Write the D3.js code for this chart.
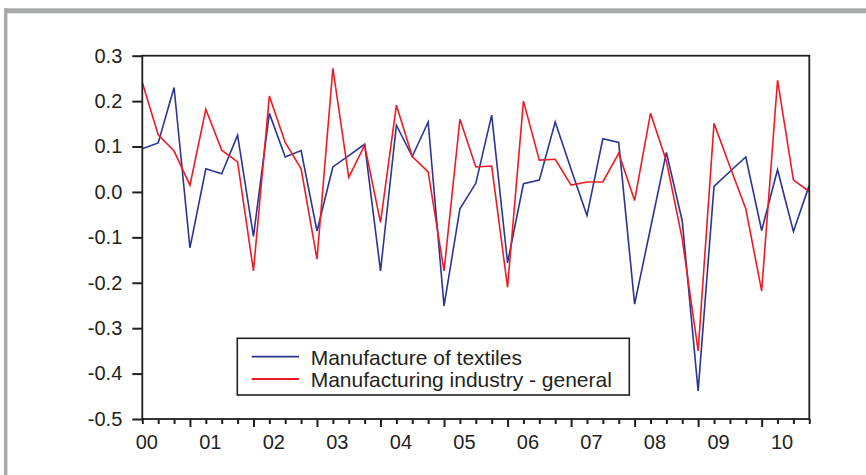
<!DOCTYPE html>
<html>
<head>
<meta charset="utf-8">
<script src="https://cdn.jsdelivr.net/npm/d3@7"></script>
<style>
  html, body { margin: 0; padding: 0; background: #fff; }
  svg { display: block; font-family: "Liberation Sans", Arial, sans-serif; }
</style>
</head>
<body>
<svg id="chart" width="866" height="475"></svg>
<script>
// ---- data (quarterly, 2000Q1 .. 2010Q3) ----
const quarters = d3.range(43); // observation index
const textiles = [0.095, 0.108, 0.230, -0.123, 0.051, 0.040, 0.125, -0.098, 0.173, 0.077,
                  0.091, -0.086, 0.055, 0.080, 0.105, -0.174, 0.147, 0.078, 0.154, -0.251,
                  -0.037, 0.019, 0.169, -0.156, 0.018, 0.026, 0.154, 0.050, -0.052, 0.117,
                  0.109, -0.247, -0.080, 0.087, -0.064, -0.438, 0.012, 0.045, 0.077, -0.085,
                  0.049, -0.087, 0.015];
const general = [0.241, 0.126, 0.090, 0.015, 0.182, 0.092, 0.066, -0.174, 0.211, 0.109,
                 0.051, -0.148, 0.272, 0.032, 0.103, -0.067, 0.191, 0.078, 0.044, -0.174,
                 0.160, 0.055, 0.057, -0.210, 0.200, 0.070, 0.072, 0.015, 0.022, 0.022,
                 0.085, -0.019, 0.173, 0.068, -0.104, -0.350, 0.151, 0.056, -0.037, -0.218,
                 0.246, 0.026, 0.001];
const yTicks = [-0.5, -0.4, -0.3, -0.2, -0.1, 0.0, 0.1, 0.2, 0.3];
const yTickLabels = ["-0.5", "-0.4", "-0.3", "-0.2", "-0.1", "0.0", "0.1", "0.2", "0.3"];
const yearLabels = ["00", "01", "02", "03", "04", "05", "06", "07", "08", "09", "10"];
const seriesNames = ["Manufacture of textiles", "Manufacturing industry - general"];
const seriesColors = ["#2b3591", "#ed1c24"];

// ---- layout ----
const svg = d3.select("#chart");
const L = 142.3, R = 809.3, T = 55.7, B = 419;
const x = d3.scaleLinear().domain([0, 42]).range([L, R]);
const y = d3.scaleLinear().domain([-0.5, 0.3]).range([B, T]);
const ink = "#231f20";

// outer gray frame (top and left)
svg.append("rect").attr("x", 4).attr("y", 8.3).attr("width", 862).attr("height", 5).attr("fill", "#a7a8aa");
svg.append("rect").attr("x", 4).attr("y", 8.3).attr("width", 3.4).attr("height", 475).attr("fill", "#a7a8aa");

// y axis
const yAxis = d3.axisLeft(y).tickValues(yTicks)
  .tickFormat((d, i) => yTickLabels[i]).tickSize(10).tickPadding(10);
const gy = svg.append("g").attr("transform", `translate(${L},0)`).call(yAxis);
gy.select(".domain").remove();
gy.selectAll(".tick line").attr("stroke", ink).attr("stroke-width", 2);
gy.selectAll(".tick text").attr("font-size", 20).attr("fill", ink)
  .attr("font-family", "Liberation Sans, Arial, sans-serif");

// x axis ticks
const xAxis = d3.axisBottom(x).tickValues(quarters).tickFormat("").tickSizeOuter(0);
const gx = svg.append("g").attr("transform", `translate(0,${B})`).call(xAxis);
gx.select(".domain").remove();
gx.selectAll(".tick line")
  .attr("y2", d => (d % 4 === 3 ? 8 : 5))
  .attr("stroke", ink).attr("stroke-width", 2);

// year labels
svg.append("g").selectAll("text").data(yearLabels).join("text")
  .attr("x", (d, i) => x(i * 4) + 4.5)
  .attr("y", 449)
  .attr("text-anchor", "middle")
  .attr("font-size", 20)
  .attr("fill", ink)
  .text(d => d);

// series lines
const line = d3.line().x((d, i) => x(quarters[i])).y(d => y(d));
[textiles, general].forEach((s, k) => {
  svg.append("path").datum(s)
    .attr("d", line)
    .attr("fill", "none")
    .attr("stroke", seriesColors[k])
    .attr("stroke-width", 1.6)
    .attr("stroke-linejoin", "miter");
});

// plot frame
svg.append("rect").attr("x", L).attr("y", T).attr("width", R - L).attr("height", B - T)
  .attr("fill", "none").attr("stroke", ink).attr("stroke-width", 1.8);

// legend
const lg = svg.append("g");
lg.append("rect").attr("x", 237.3).attr("y", 338.3).attr("width", 392).attr("height", 56.7)
  .attr("fill", "#fff").attr("stroke", ink).attr("stroke-width", 1.6);
seriesNames.forEach((name, k) => {
  const ly = 356.7 + k * 22.3;
  lg.append("line").attr("x1", 251.7).attr("x2", 299).attr("y1", ly).attr("y2", ly)
    .attr("stroke", seriesColors[k]).attr("stroke-width", 1.8);
  lg.append("text").attr("x", 310.7).attr("y", ly + 8)
    .attr("font-size", 21).attr("fill", ink).text(name);
});
</script>
</body>
</html>
